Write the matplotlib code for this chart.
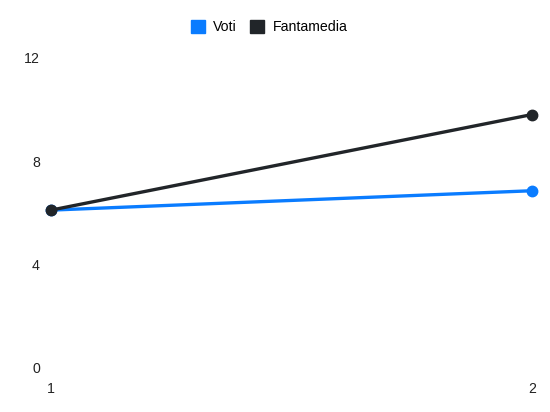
import matplotlib
matplotlib.use("Agg")
from matplotlib import pyplot as plt
from matplotlib.patches import Patch

giornate = [1, 2]
voti = [6.1, 6.85]
fantamedia = [6.1, 9.8]
y_ticks = [0, 4, 8, 12]

blu = "#0a7cff"
nero = "#212529"

plt.rcParams["font.family"] = ["Liberation Sans", "DejaVu Sans"]

fig = plt.figure(figsize=(5.5, 4.12), dpi=100)
ax = fig.add_axes([51 / 550, 44.3 / 412, 481 / 550, 310 / 412])

ax.plot(giornate, voti, color=blu, lw=2.4, marker="o", ms=7.5, clip_on=False, zorder=3)
ax.plot(giornate, fantamedia, color=nero, lw=2.4, marker="o", ms=7.5, clip_on=False, zorder=4)

ax.set_xlim(1, 2)
ax.set_ylim(0, 12)
ax.set_xticks(giornate)
ax.set_yticks(y_ticks)
ax.tick_params(length=0, labelsize=10.2, colors="#222222")
ax.tick_params(axis="y", pad=8)
ax.tick_params(axis="x", pad=10)
for s in ax.spines.values():
    s.set_visible(False)

handles = [Patch(color=blu, label="Voti"), Patch(color=nero, label="Fantamedia")]
fig.legend(handles=handles, loc="center", bbox_to_anchor=(269 / 550, 1 - 27 / 412),
           ncol=2, frameon=False, fontsize=10.2, handlelength=1.0, handleheight=1.0,
           handletextpad=0.6, columnspacing=0.9)

fig.savefig("out.png", dpi=100)
